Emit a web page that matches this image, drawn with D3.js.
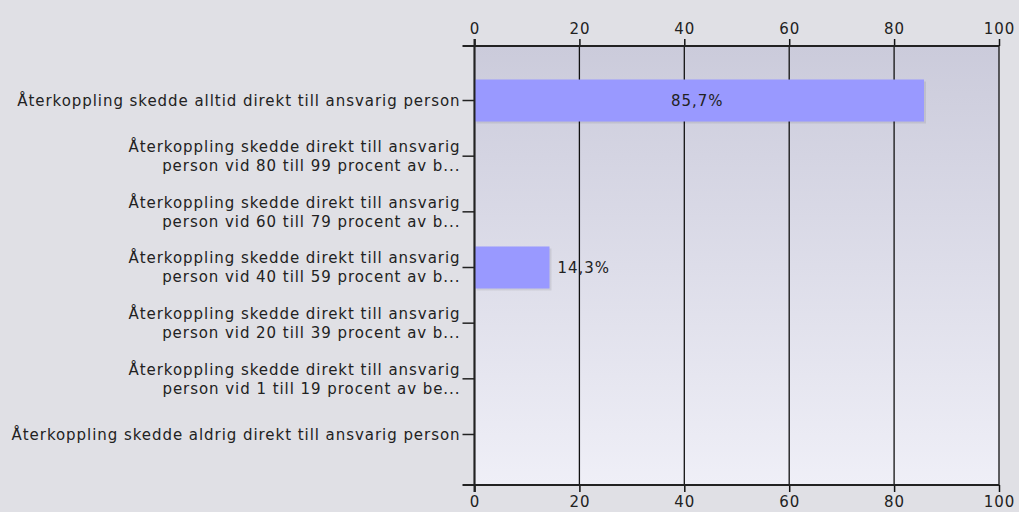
<!DOCTYPE html>
<html>
<head>
<meta charset="utf-8">
<script src="https://cdn.jsdelivr.net/npm/d3@7"></script>
<style>
  body { margin: 0; background: #e0e0e5; }
  svg { display: block; font-family: "DejaVu Sans", Verdana, sans-serif; letter-spacing: 0.95px; }
</style>
</head>
<body>
<div id="chart"></div>
<script>
// answer categories, one or two label lines each
var categories = [
  ["Återkoppling skedde alltid direkt till ansvarig person"],
  ["Återkoppling skedde direkt till ansvarig", "person vid 80 till 99 procent av b..."],
  ["Återkoppling skedde direkt till ansvarig", "person vid 60 till 79 procent av b..."],
  ["Återkoppling skedde direkt till ansvarig", "person vid 40 till 59 procent av b..."],
  ["Återkoppling skedde direkt till ansvarig", "person vid 20 till 39 procent av b..."],
  ["Återkoppling skedde direkt till ansvarig", "person vid 1 till 19 procent av be..."],
  ["Återkoppling skedde aldrig direkt till ansvarig person"]
];
var values = [85.7, 0, 0, 14.3, 0, 0, 0];
var labels = ["85,7%", "", "", "14,3%", "", "", ""];
var xTicks = [0, 20, 40, 60, 80, 100];

var width = 1019, height = 512;
var pLeft = 474.5, pRight = 999, pTop = 46, pBottom = 485;
var fontSize = '15px';

var svg = d3.select('#chart').append('svg')
  .attr('width', width).attr('height', height);

var defs = svg.append('defs');
var grad = defs.append('linearGradient').attr('id', 'bg')
  .attr('x1', 0).attr('y1', 0).attr('x2', 0).attr('y2', 1);
grad.append('stop').attr('offset', '0%').attr('stop-color', '#cbcbdb');
grad.append('stop').attr('offset', '100%').attr('stop-color', '#efeff7');

var x = d3.scaleLinear().domain([0, 100]).range([pLeft, pRight]);
var y = d3.scaleBand().domain(d3.range(categories.length))
  .range([pTop + 2, pBottom + 2]).paddingInner(0.245).paddingOuter(0.566);

// plot background
svg.append('rect')
  .attr('x', pLeft).attr('y', pTop)
  .attr('width', pRight - pLeft).attr('height', pBottom - pTop)
  .style('fill', 'url(#bg)');

// vertical grid
svg.append('g').selectAll('line').data(xTicks).enter().append('line')
  .attr('x1', function(d){ return x(d); }).attr('x2', function(d){ return x(d); })
  .attr('y1', pTop).attr('y2', pBottom)
  .style('stroke', '#111').style('stroke-width', 1.3);

// bars with a soft shadow
var bars = svg.append('g');
bars.selectAll('rect.shadow').data(values).enter().append('rect')
  .attr('class', 'shadow')
  .attr('x', x(0) + 2).attr('y', function(d, i){ return y(i) + 2; })
  .attr('width', function(d){ return Math.max(0, x(d) - x(0)); })
  .attr('height', y.bandwidth())
  .style('fill', 'rgba(0,0,0,0.08)');
bars.selectAll('rect.bar').data(values).enter().append('rect')
  .attr('class', 'bar')
  .attr('x', x(0)).attr('y', function(d, i){ return y(i); })
  .attr('width', function(d){ return Math.max(0, x(d) - x(0)); })
  .attr('height', y.bandwidth())
  .style('fill', '#9999ff');

// value labels: inside when the bar is wide, else just past the end
svg.append('g').selectAll('text').data(values).enter().append('text')
  .attr('x', function(d){ return d > 50 ? (x(0) + x(d)) / 2 - 2 : x(d) + 8; })
  .attr('y', function(d, i){ return y(i) + y.bandwidth() / 2; })
  .attr('dy', '0.35em')
  .attr('text-anchor', function(d){ return d > 50 ? 'middle' : 'start'; })
  .style('font-size', fontSize).style('fill', '#222')
  .text(function(d, i){ return labels[i]; });

// top and bottom axes
var axisTop = svg.append('g').attr('transform', 'translate(0,' + pTop + ')')
  .call(d3.axisTop(x).tickValues(xTicks).tickSize(7).tickPadding(5).tickSizeOuter(0));
var axisBottom = svg.append('g').attr('transform', 'translate(0,' + pBottom + ')')
  .call(d3.axisBottom(x).tickValues(xTicks).tickSize(7).tickPadding(4).tickSizeOuter(0));
[axisTop, axisBottom].forEach(function(a){
  a.select('.domain').remove();
  a.selectAll('line').style('stroke', '#111').style('stroke-width', 1.5);
  a.selectAll('text').style('font-family', '"DejaVu Sans", Verdana, sans-serif')
    .style('font-size', fontSize).style('fill', '#222');
  a.append('line').attr('x1', pLeft - 12).attr('x2', pRight)
    .style('stroke', '#222').style('stroke-width', 2);
});

// left axis line
svg.append('line').attr('x1', pLeft).attr('x2', pLeft)
  .attr('y1', pTop - 7).attr('y2', pBottom + 7)
  .style('stroke', '#222').style('stroke-width', 2);

// category ticks and labels
var cat = svg.append('g').selectAll('g').data(categories).enter().append('g')
  .attr('transform', function(d, i){ return 'translate(0,' + (y(i) + y.bandwidth() / 2) + ')'; });
cat.append('line').attr('x1', pLeft - 12).attr('x2', pLeft)
  .style('stroke', '#222').style('stroke-width', 1.5);
cat.append('text')
  .attr('text-anchor', 'end')
  .style('font-size', fontSize).style('fill', '#222')
  .selectAll('tspan').data(function(d){ return d; }).enter().append('tspan')
  .attr('x', pLeft - 14)
  .attr('y', function(d, j, n){ return (j - (n.length - 1) / 2) * 19; })
  .attr('dy', '0.35em')
  .text(function(d){ return d; });
</script>
</body>
</html>
